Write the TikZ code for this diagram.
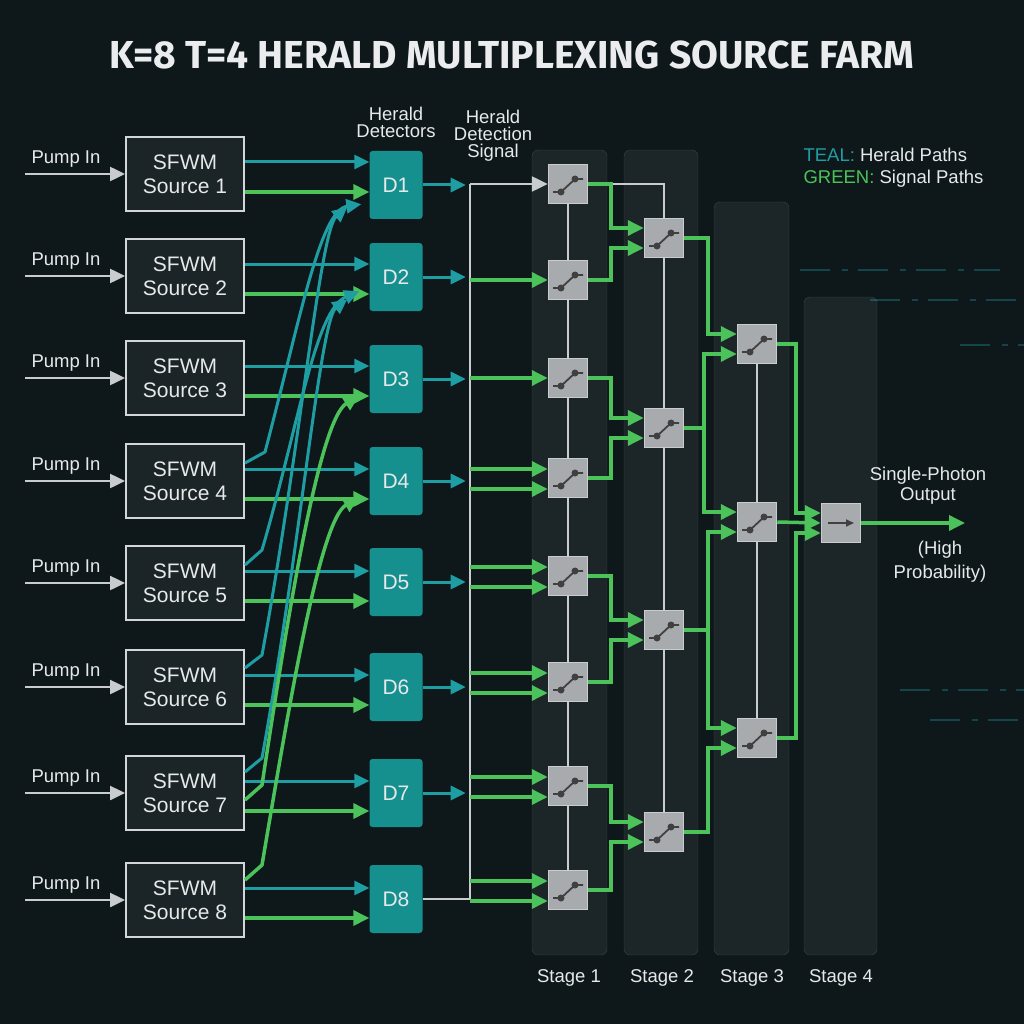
\documentclass[tikz,border=0pt]{standalone}
\usepackage{fontspec}
\setmainfont{Liberation Sans}
\newfontfamily\titlefont{Fira Sans}
\usetikzlibrary{arrows.meta,calc}
\definecolor{bg}{HTML}{0E181B}
\definecolor{teal}{HTML}{1E9EA3}
\definecolor{tealfill}{HTML}{15908F}
\definecolor{sig}{HTML}{4CC35A}
\definecolor{lgray}{HTML}{C8CCCE}
\definecolor{swfill}{HTML}{A7ABAD}
\definecolor{srcfill}{HTML}{1B2426}
\definecolor{txt}{HTML}{E6E9EA}
\begin{document}
\begin{tikzpicture}[x=1pt,y=-1pt,
  src/.style={draw=lgray!80,fill=srcfill,line width=2pt,minimum width=118pt,minimum height=74pt,align=center,text=txt,font=\fontsize{21}{24}\selectfont},
  det/.style={fill=tealfill,rounded corners=3pt,minimum width=53pt,minimum height=68pt,text=txt,font=\fontsize{21}{24}\selectfont},
  sw/.style={draw=lgray,fill=swfill,line width=1.5pt,minimum width=39pt,minimum height=39pt,inner sep=0pt},
  stage/.style={fill=white,fill opacity=0.06,draw=white,draw opacity=0.15,rounded corners=6pt},
  lbl/.style={text=txt,font=\fontsize{18.5}{20}\selectfont,align=center},
  tl/.style={teal,line width=3pt,-{Triangle[length=15pt,width=14pt]}},
  gl/.style={sig,line width=3.5pt,-{Triangle[length=16pt,width=15pt]}},
  gy/.style={lgray,line width=2.5pt},
  pump/.style={lgray,line width=2.5pt,-{Triangle[length=15pt,width=14pt]}}]
\fill[bg] (0,0) rectangle (1024,1024);
\useasboundingbox (0,0) rectangle (1024,1024);
% faint decoration
\foreach \y/\a/\b in {270/800/1000,300/870/1024,345/960/1024,690/900/1024,720/930/1024}
  \draw[teal,opacity=0.35,line width=1.5pt,dash pattern=on 30pt off 12pt on 6pt off 10pt] (\a,\y) -- (\b,\y);
\node[text=txt!85,font=\titlefont\bfseries\fontsize{39}{42}\selectfont] (title) at (512,55) {K=8 T=4 HERALD MULTIPLEXING SOURCE FARM};
% stage columns
\draw[stage] (532,150) rectangle (607,955);
\draw[stage] (624,150) rectangle (698,955);
\draw[stage] (714,202) rectangle (789,955);
\draw[stage] (804,297) rectangle (877,955);
\node[lbl] (st1) at (569,978) {Stage 1};
\node[lbl] (st2) at (662,978) {Stage 2};
\node[lbl] (st3) at (752,978) {Stage 3};
\node[lbl] (st4) at (841,978) {Stage 4};
\node[lbl] (hd) at (396,122) {Herald\\[-3pt]Detectors};
\node[lbl] (hds) at (493,136) {Herald\\[-3pt]Detection\\[-3pt]Signal};
\node[anchor=west,font=\fontsize{18.5}{20}\selectfont,text=txt] (lg1) at (800,155) {\textcolor{teal}{TEAL:} Herald Paths};
\node[anchor=west,font=\fontsize{18.5}{20}\selectfont,text=txt] (lg2) at (800,179) {\textcolor{sig}{GREEN:} Signal Paths};
% sources and detectors
\foreach \k/\sy/\dy in {1/174/185,2/276/277,3/378/379,4/481/481,5/583/582,6/687/687,7/793/793,8/900/899}{
  \node[src] (S\k) at (185,\sy) {SFWM\\Source \k};
  \node[det] (D\k) at (396,\dy) {D\k};
  \node[lbl,anchor=south] (P\k) at (66,\sy-3) {Pump In};
  \coordinate (pin\k) at (25,\sy);
  \draw[pump] (pin\k) -- (S\k.west);
  \draw[tl] (S\k.east |- 0,\sy-12) -- (D\k.west |- 0,\sy-12);
  \draw[gl] (S\k.east |- 0,\sy+18) -- (D\k.west |- 0,\sy+18);
}
% crossing paths
\draw[tl] (S4.east |- 0,463) -- (265,452) .. controls (300,320) and (320,210) .. ($(D1.south west)+(-8,-15)$);
\draw[tl] (S5.east |- 0,565) -- (262,550) .. controls (300,420) and (315,310) .. ($(D2.south west)+(-10,-20)$);
\draw[tl] (S6.east |- 0,668) -- (262,655) .. controls (300,450) and (320,230) .. ($(D1.south west)+(-22,-12)$);
\draw[tl] (S7.east |- 0,772) -- (262,758) .. controls (300,550) and (320,320) .. ($(D2.south west)+(-22,-12)$);
\draw[gl] (S7.east |- 0,800) -- (262,785) .. controls (290,600) and (320,420) .. ($(D3.south west)+(-10,-18)$);
\draw[gl] (S8.east |- 0,880) -- (262,865) .. controls (290,700) and (320,520) .. ($(D4.south west)+(-10,-18)$);
% stage switches
\foreach \i/\y in {1/184,2/280,3/378,4/478,5/576,6/682,7/786,8/890}
  \node[sw] (A\i) at (568,\y) {};
\foreach \i/\y in {1/238,2/428,3/630,4/832}
  \node[sw] (B\i) at (664,\y) {};
\foreach \i/\y in {1/344,2/522,3/738}
  \node[sw] (C\i) at (757,\y) {};
\node[sw] (O) at (841,523) {};
% vertical gray lines
\draw[gy,line width=2pt] (A1) -- (A8);
\draw[gy,line width=2pt] (A1.east) -- (664,184) -- (B1);
\draw[gy,line width=2pt] (B1) -- (B4);
\draw[gy,line width=2pt] (C1) -- (C3);
% redraw switches on top
\foreach \n in {A1,A2,A3,A4,A5,A6,A7,A8,B1,B2,B3,B4,C1,C2,C3}{
  \node[sw] at (\n) {};
  \draw[black!75,line width=1.8pt] ($(\n)+(-15,8)$) -- ($(\n)+(-7,8)$) -- ($(\n)+(7,-5)$) -- ($(\n)+(15,-5)$);
  \fill[black!75] ($(\n)+(-7,8)$) circle (3.5pt) ($(\n)+(7,-5)$) circle (3.5pt);
}
\node[sw] at (O) {};
\draw[black!75,line width=1.8pt,-{Triangle[length=8pt,width=7pt]}] ($(O)+(-13,0)$) -- ($(O)+(13,0)$);
% detector outputs and bus
\foreach \k in {1,...,7}
  \draw[tl] (D\k.east) -- ++(43,0);
\coordinate (bt) at (470,184);
\coordinate (bb) at (470,899);
\draw[gy] (D8.east) -- (bb) -- (bt);
\draw[gy,-{Triangle[length=16pt,width=15pt]}] (bt) -- (A1.west);
\draw[gl] (bt |- A2) -- (A2.west);
\draw[gl] (bt |- A3) -- (A3.west);
\foreach \i in {4,...,8}{
  \draw[gl] ($(bt |- A\i)+(0,-9)$) -- ($(A\i.west)+(0,-9)$);
  \draw[gl] ($(bt |- A\i)+(0,11)$) -- ($(A\i.west)+(0,11)$);
}
% stage1 -> stage2
\foreach \a/\b/\o in {1/1/-10,2/1/10,3/2/-10,4/2/10,5/3/-10,6/3/10,7/4/-10,8/4/10}
  \draw[gl] (A\a.east) -- (611,0 |- A\a) -- (611,0 |- {$(B\b)+(0,\o)$}) -- ($(B\b.west)+(0,\o)$);
% stage2 -> stage3
\foreach \a/\b/\o/\x in {1/1/-10/708,2/1/10/704,2/2/-10/704,3/2/10/708,3/3/-10/708,4/3/10/708}
  \draw[gl] (B\a.east) -- (\x,0 |- B\a) -- (\x,0 |- {$(C\b)+(0,\o)$}) -- ($(C\b.west)+(0,\o)$);
% stage3 -> stage4
\draw[gl] (C1.east) -- (796,0 |- C1) -- (796,513) -- ($(O.west)+(0,-10)$);
\draw[gl] (C2.east) -- (O.west);
\draw[gl] (C3.east) -- (796,0 |- C3) -- (796,533) -- ($(O.west)+(0,10)$);
\coordinate (out) at (965,523);
\draw[gl] (O.east) -- (out);
\node[lbl] (o1) at (928,486) {Single-Photon\\[0pt]Output};
\node[lbl] (o2) at (940,562) {(High\\[4pt]Probability)};
\end{tikzpicture}
\end{document}
